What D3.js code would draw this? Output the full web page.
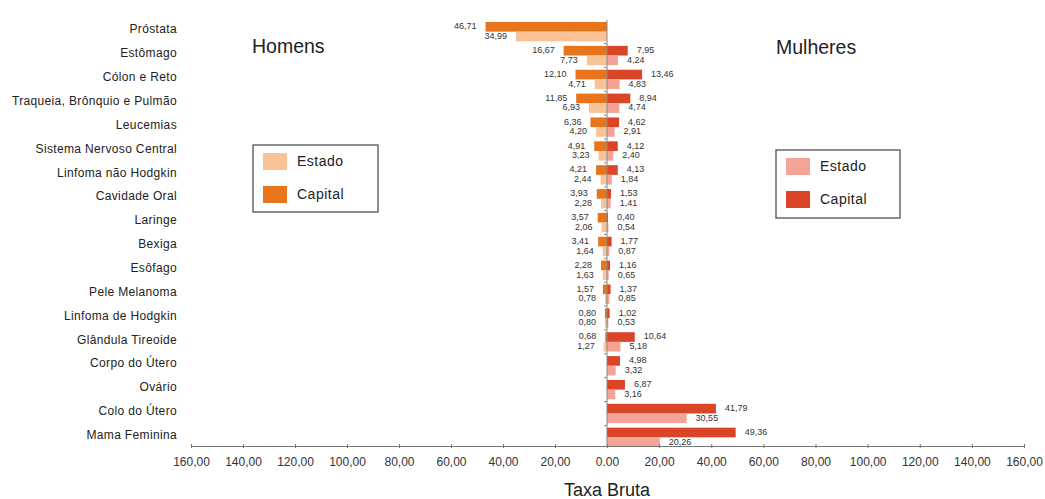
<!DOCTYPE html>
<html>
<head>
<meta charset="utf-8">
<script src="https://cdn.jsdelivr.net/npm/d3@7"></script>
<style>
  html, body { margin: 0; padding: 0; background: #fff; }
  svg { display: block; font-family: "Liberation Sans", Arial, sans-serif; }
</style>
</head>
<body>
<svg id="chart" width="1045" height="499"></svg>
<script>
// Incidence rates (taxa bruta) by cancer site, men on the left, women on the right
const categories = [
  "Próstata", "Estômago", "Cólon e Reto", "Traqueia, Brônquio e Pulmão", "Leucemias",
  "Sistema Nervoso Central", "Linfoma não Hodgkin", "Cavidade Oral", "Laringe", "Bexiga",
  "Esôfago", "Pele Melanoma", "Linfoma de Hodgkin", "Glândula Tireoide", "Corpo do Útero",
  "Ovário", "Colo do Útero", "Mama Feminina"
];
const menCapital = [46.71, 16.67, 12.10, 11.85, 6.36, 4.91, 4.21, 3.93, 3.57, 3.41, 2.28, 1.57, 0.80, 0.68, null, null, null, null];
const menEstado  = [34.99, 7.73, 4.71, 6.93, 4.20, 3.23, 2.44, 2.28, 2.06, 1.64, 1.63, 0.78, 0.80, 1.27, null, null, null, null];
const womenCapital = [null, 7.95, 13.46, 8.94, 4.62, 4.12, 4.13, 1.53, 0.40, 1.77, 1.16, 1.37, 1.02, 10.64, 4.98, 6.87, 41.79, 49.36];
const womenEstado  = [null, 4.24, 4.83, 4.74, 2.91, 2.40, 1.84, 1.41, 0.54, 0.87, 0.65, 0.85, 0.53, 5.18, 3.32, 3.16, 30.55, 20.26];
const tickValues = [0, 20, 40, 60, 80, 100, 120, 140, 160];
const seriesNames = ["Estado", "Capital"];

const colors = {
  menCapital: "#e8741c",
  menEstado: "#f9c39a",
  womenCapital: "#da4527",
  womenEstado: "#f4a497"
};

const svg = d3.select("#chart");
const zeroX = 607;
const xLeft = d3.scaleLinear().domain([0, 160]).range([zeroX, 191]);
const xRight = d3.scaleLinear().domain([0, 160]).range([zeroX, 1024]);
const y = d3.scaleBand().domain(categories).range([22, 447]).paddingInner(0.19).paddingOuter(0.0);
const axisY = 446;
const barH = y.bandwidth() / 2;

const fmt = v => v.toFixed(2).replace(".", ",");

// Category labels
svg.append("g").selectAll("text").data(categories).join("text")
  .attr("x", 177)
  .attr("y", d => y(d) + barH - 1.5)
  .attr("text-anchor", "end")
  .attr("dominant-baseline", "middle")
  .attr("font-size", 12)
  .attr("letter-spacing", 0.35)
  .attr("fill", "#222")
  .text(d => d);

// Draw one side of bars with value labels
function side(values, scale, color, offset, dir) {
  const rows = categories.map((c, i) => ({ c, v: values[i] })).filter(d => d.v != null);
  const g = svg.append("g");
  g.selectAll("rect").data(rows).join("rect")
    .attr("x", d => dir < 0 ? scale(d.v) : zeroX)
    .attr("y", d => y(d.c) + offset)
    .attr("width", d => Math.abs(scale(d.v) - zeroX))
    .attr("height", barH)
    .attr("fill", color);
  g.selectAll("text").data(rows).join("text")
    .attr("x", d => scale(d.v) + dir * 9)
    .attr("y", d => y(d.c) + offset + barH / 2)
    .attr("text-anchor", dir < 0 ? "end" : "start")
    .attr("dominant-baseline", "middle")
    .attr("font-size", 9)
    .attr("fill", "#333")
    .text(d => fmt(d.v));
}
side(menCapital, xLeft, colors.menCapital, 0, -1);
side(menEstado, xLeft, colors.menEstado, barH, -1);
side(womenCapital, xRight, colors.womenCapital, 0, 1);
side(womenEstado, xRight, colors.womenEstado, barH, 1);

// Zero line with category ticks
svg.append("line")
  .attr("x1", zeroX).attr("x2", zeroX)
  .attr("y1", 20).attr("y2", axisY)
  .attr("stroke", "#888").attr("stroke-width", 1);
svg.append("g").selectAll("line").data(categories.slice(1)).join("line")
  .attr("x1", zeroX - 3).attr("x2", zeroX)
  .attr("y1", d => y(d) - y.step() * y.paddingInner() / 2)
  .attr("y2", d => y(d) - y.step() * y.paddingInner() / 2)
  .attr("stroke", "#888");

// Horizontal axes (both halves); the shared zero is labelled once
function hAxis(scale, ticks) {
  const g = svg.append("g").attr("transform", `translate(0,${axisY})`)
    .call(d3.axisBottom(scale).tickValues(ticks).tickSize(3).tickSizeOuter(0)
      .tickFormat(d => d === 0 ? "0.00" : fmt(d)));
  g.select(".domain").attr("stroke", "#777");
  g.selectAll(".tick line").attr("stroke", "#777").attr("y1", -2).attr("y2", 2);
  g.selectAll(".tick text").attr("font-size", 12).attr("fill", "#333")
    .attr("font-family", "Liberation Sans, Arial, sans-serif").attr("dy", "1.15em");
}
hAxis(xLeft, tickValues.filter(d => d !== 0));
hAxis(xRight, tickValues);

svg.append("text")
  .attr("x", zeroX).attr("y", 496)
  .attr("text-anchor", "middle")
  .attr("font-size", 18)
  .attr("fill", "#222")
  .text("Taxa Bruta");

// Side titles
svg.append("text").attr("x", 252).attr("y", 53).attr("font-size", 19.5).attr("fill", "#222").text("Homens");
svg.append("text").attr("x", 776).attr("y", 54).attr("font-size", 19.5).attr("fill", "#222").text("Mulheres");

// Legends
function legend(x0, y0, w, h, cols) {
  const g = svg.append("g").attr("transform", `translate(${x0},${y0})`);
  g.append("rect").attr("width", w).attr("height", h)
    .attr("fill", "#fff").attr("stroke", "#444").attr("stroke-width", 1.2);
  g.selectAll("rect.sw").data(seriesNames).join("rect").attr("class", "sw")
    .attr("x", 10).attr("y", (d, i) => 8 + i * 33)
    .attr("width", 24).attr("height", 17)
    .attr("fill", (d, i) => cols[i]);
  g.selectAll("text").data(seriesNames).join("text")
    .attr("x", 44).attr("y", (d, i) => 17 + i * 33)
    .attr("dominant-baseline", "middle")
    .attr("font-size", 14).attr("letter-spacing", 0.5).attr("fill", "#222")
    .text(d => d);
}
legend(253, 145, 125, 67, [colors.menEstado, colors.menCapital]);
legend(776, 150, 124, 68, [colors.womenEstado, colors.womenCapital]);
</script>
</body>
</html>
